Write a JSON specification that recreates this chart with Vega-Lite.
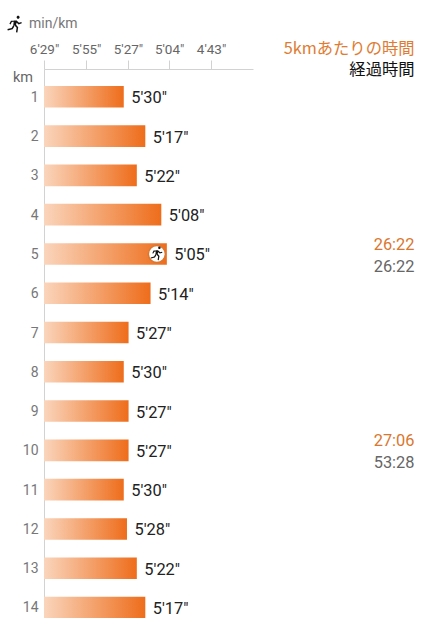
{
"$schema":"https://vega.github.io/schema/vega-lite/v6.json",
"autosize":{"type":"none"},
"padding":{"left":44,"top":69,"right":0,"bottom":0},
"width":383,
"height":549.3,
"background":"white",
"config":{"view":{"stroke":null},"font":"Roboto"},
"title":{"text":"5kmあたりの時間","subtitle":"経過時間","anchor":"end","frame":"group","font":"Noto Sans CJK JP","fontSize":16.3,"fontWeight":"normal","color":"#DE7C33","subtitleFont":"Noto Sans CJK JP","subtitleFontSize":16.3,"subtitleColor":"#111111","subtitlePadding":5,"offset":-63,"dx":-12.5},
"datasets":{
"laps":[
{"km":1,"kmh":10.909,"pace":"5'30\""},
{"km":2,"kmh":11.356,"pace":"5'17\""},
{"km":3,"kmh":11.180,"pace":"5'22\""},
{"km":4,"kmh":11.688,"pace":"5'08\""},
{"km":5,"kmh":11.803,"pace":"5'05\""},
{"km":6,"kmh":11.465,"pace":"5'14\""},
{"km":7,"kmh":11.009,"pace":"5'27\""},
{"km":8,"kmh":10.909,"pace":"5'30\""},
{"km":9,"kmh":11.009,"pace":"5'27\""},
{"km":10,"kmh":11.009,"pace":"5'27\""},
{"km":11,"kmh":10.909,"pace":"5'30\""},
{"km":12,"kmh":10.976,"pace":"5'28\""},
{"km":13,"kmh":11.180,"pace":"5'22\""},
{"km":14,"kmh":11.356,"pace":"5'17\""}
],
"splits":[
{"km":5,"split":"26:22","total":"26:22","right":16.94},
{"km":10,"split":"27:06","total":"53:28","right":16.94}
],
"current":[{"km":5,"kmh":11.803}],
"header":[{"km":1,"kmh":9.2545}]
},
"layer":[
{"data":{"name":"laps"},
"mark":{"type":"bar","size":21.6,"color":{"gradient":"linear","x1":0,"x2":1,"y1":0,"y2":0,"stops":[{"offset":0,"color":"#FAD5BC"},{"offset":1,"color":"#EE6D1B"}]}},
"encoding":{
"y":{"field":"km","type":"ordinal","sort":"ascending","scale":{"paddingInner":0.45,"paddingOuter":0.2164,"align":1},
"axis":{"title":"km","titleFont":"Roboto","titleFontSize":14.5,"titleFontWeight":"normal","titleColor":"#666666","titleAngle":0,"titleAlign":"right","titleBaseline":"middle","titleX":-11.5,"titleY":9,
"domainColor":"#D2D2D2","domainWidth":1,"ticks":false,"labelPadding":6,"labelOffset":1,"labelFont":"Roboto","labelFontSize":14,"labelColor":"#777777","labelAngle":0}},
"x":{"field":"kmh","type":"quantitative","scale":{"domain":[9.2545,13.59],"range":[0,209],"zero":false,"nice":false},
"axis":{"orient":"top","values":[9.2545,10.13,10.995,11.85,12.72],
"labelExpr":"floor(round(3600/datum.value)/60)+\"'\"+(round(3600/datum.value)%60<10?'0':'')+(round(3600/datum.value)%60)+'\"'",
"labelOverlap":false,"labelFlush":false,"labelBound":false,
"grid":false,"domainColor":"#D2D2D2","tickColor":"#D2D2D2","tickSize":9,"labelPadding":3,"labelFont":"Roboto","labelFontSize":13.5,"labelColor":"#666666",
"title":"min/km","titleFont":"Roboto","titleFontSize":14,"titleFontWeight":"normal","titleColor":"#777777","titleAlign":"left","titleBaseline":"middle","titleX":-15.5,"titleY":-45}},
"x2":{"datum":9.2545}
}},
{"data":{"name":"laps"},
"mark":{"type":"text","align":"left","baseline":"middle","dx":7.5,"dy":1.5,"font":"Roboto","fontSize":16.4,"color":"#222222"},
"encoding":{"y":{"field":"km","type":"ordinal","sort":"ascending"},"x":{"field":"kmh","type":"quantitative"},"text":{"field":"pace"}}},
{"data":{"name":"current"},
"mark":{"type":"point","shape":"circle","filled":true,"size":290,"fill":"white","stroke":"#D9772F","strokeWidth":1.5,"opacity":1,"xOffset":-10},
"encoding":{"y":{"field":"km","type":"ordinal","sort":"ascending"},"x":{"field":"kmh","type":"quantitative"}}},
{"data":{"name":"current"},
"mark":{"type":"point","shape":"M0.2,-0.95a0.19,0.19 0 1,0 0.38,0a0.19,0.19 0 1,0 -0.38,0zM-0.15,-0.55L0.25,-0.55L0.12,0.1L-0.22,0.1zM-0.15,0L0.05,-0.1L0.4,0.3L0.3,0.95L0.12,0.92L0.2,0.38zM-0.22,0.05L-0.08,0.2L-0.3,0.55L-0.9,0.7L-0.95,0.53L-0.42,0.4zM0.2,-0.55L0.5,-0.25L0.8,-0.35L0.85,-0.2L0.45,-0.05L0.12,-0.35zM-0.1,-0.55L-0.1,-0.4L-0.4,-0.35L-0.55,-0.05L-0.7,-0.12L-0.5,-0.52z","filled":true,"size":170,"fill":"#111111","stroke":null,"opacity":1,"xOffset":-10},
"encoding":{"y":{"field":"km","type":"ordinal","sort":"ascending"},"x":{"field":"kmh","type":"quantitative"}}},
{"data":{"name":"header"},
"mark":{"type":"point","shape":"M0.2,-0.95a0.19,0.19 0 1,0 0.38,0a0.19,0.19 0 1,0 -0.38,0zM-0.15,-0.55L0.25,-0.55L0.12,0.1L-0.22,0.1zM-0.15,0L0.05,-0.1L0.4,0.3L0.3,0.95L0.12,0.92L0.2,0.38zM-0.22,0.05L-0.08,0.2L-0.3,0.55L-0.9,0.7L-0.95,0.53L-0.42,0.4zM0.2,-0.55L0.5,-0.25L0.8,-0.35L0.85,-0.2L0.45,-0.05L0.12,-0.35zM-0.1,-0.55L-0.1,-0.4L-0.4,-0.35L-0.55,-0.05L-0.7,-0.12L-0.5,-0.52z","filled":true,"size":256,"fill":"#111111","stroke":null,"opacity":1,"xOffset":-29,"yOffset":-72},
"encoding":{"y":{"field":"km","type":"ordinal","sort":"ascending"},"x":{"field":"kmh","type":"quantitative"}}},
{"data":{"name":"splits"},
"mark":{"type":"text","align":"right","baseline":"middle","dy":-9,"font":"Roboto","fontSize":16.4,"color":"#D9772F"},
"encoding":{"y":{"field":"km","type":"ordinal","sort":"ascending"},"x":{"field":"right","type":"quantitative"},"text":{"field":"split"}}},
{"data":{"name":"splits"},
"mark":{"type":"text","align":"right","baseline":"middle","dy":13,"font":"Roboto","fontSize":16.4,"color":"#666666"},
"encoding":{"y":{"field":"km","type":"ordinal","sort":"ascending"},"x":{"field":"right","type":"quantitative"},"text":{"field":"total"}}}
]
}
